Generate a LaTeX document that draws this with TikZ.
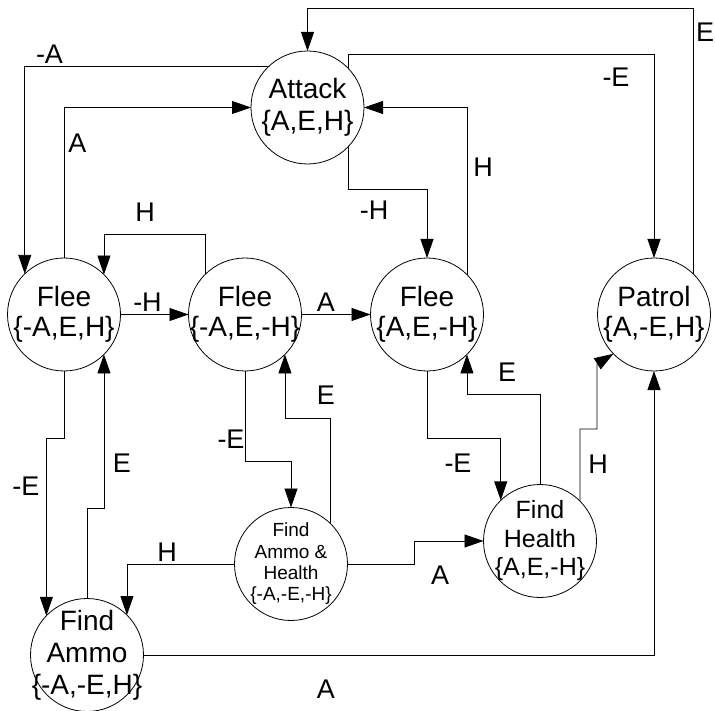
\documentclass[tikz,border=0pt]{standalone}
\usepackage{fontspec}
\setmainfont{Liberation Sans}
\usetikzlibrary{arrows.meta}
\begin{document}
\begin{tikzpicture}[x=1pt,y=-1pt,
  st/.style={circle,draw,line width=0.8pt,minimum size=113pt,inner sep=-40pt,outer sep=0pt,align=center,font=\fontsize{28}{30}\selectfont},
  lbl/.style={inner sep=0pt,font=\fontsize{27}{30}\selectfont},
  conn/.style={line width=0.8pt,-{Triangle[length=19pt,width=13pt]}}]
\useasboundingbox (0,0) rectangle (715,711);
% states
\node[st,font=\fontsize{28}{32}\selectfont] (AT) at (307.5,107.5) {Attack\\\{A,E,H\}};
\node[st] (F1) at (64,314.5) {Flee\\\{-A,E,H\}};
\node[st] (F2) at (245,314.5) {Flee\\\{-A,E,-H\}};
\node[st] (F3) at (427,314.5) {Flee\\\{A,E,-H\}};
\node[st] (PA) at (654,314.5) {Patrol\\\{A,-E,H\}};
\node[st,font=\fontsize{19}{21.3}\selectfont] (FAH) at (291,564) {Find\\Ammo \&\\Health\\\{-A,-E,-H\}};
\node[st,font=\fontsize{28}{32}\selectfont] (FA) at (87,655) {Find\\Ammo\\\{-A,-E,H\}};
\node[st,font=\fontsize{25}{28.5}\selectfont] (FH) at (540,541) {Find\\Health\\\{A,E,-H\}};
% transitions
\draw[conn] (AT.134.7) -| (F1.134.6);
\draw[conn] (F1.north) |- (AT.west);
\draw[conn] (F2.134.6) -- ++(0,-39) -| (F1.45.4);
\draw[conn] (F1.east) -- (F2.west);
\draw[conn] (F2.east) -- (F3.west);
\draw[conn] (AT.-44.7) -- ++(0,42.4) -| (F3.north);
\draw[conn] (F3.45.4) |- (AT.east);
\draw[conn] (AT.44.7) -- ++(0,-14) -| (PA.north);
\draw[conn] (PA.46.8) -- ++(0,-265) -| (AT.north);
\draw[conn] (F1.south) -- ++(0,67.5) -| (FA.136);
\draw[conn] (FA.north) -- ++(0,-90) -| (F1.-45.4);
\draw[conn] (F2.south) -- ++(0,90.5) -| (FAH.north);
\draw[conn] (FAH.46.8) -- ++(0,-105) -| (F2.-45.4);
\draw[conn] (FAH.west) -| (FA.45.4);
\draw[conn] (FAH.east) -- ++(67,0) |- (FH.west);
\draw[conn] (F3.south) -- ++(0,67.5) -| (FH.134.6);
\draw[conn] (FH.north) -- ++(0,-90) -| (F3.-45.4);
\draw[conn] (FH.45.4) -- ++(0,-72) -- ++(17,0) -- ++(0,-65) -- (PA.224);
\draw[conn] (FA.east) -| (PA.south);
% labels
\node[lbl] (l1) at (49.5,54) {-A};
\node[lbl] (l2) at (77.5,143.5) {A};
\node[lbl] (l3) at (145,212) {H};
\node[lbl] (l4) at (147.5,302) {-H};
\node[lbl] (l5) at (326,302) {A};
\node[lbl] (l6) at (374,210) {-H};
\node[lbl] (l7) at (483,167) {H};
\node[lbl] (l8) at (616,77) {-E};
\node[lbl] (l9) at (705,32.5) {E};
\node[lbl] (l10) at (26,486) {-E};
\node[lbl] (l11) at (122,463) {E};
\node[lbl] (l12) at (231,439) {-E};
\node[lbl] (l13) at (326,395) {E};
\node[lbl] (l14) at (167,552) {H};
\node[lbl] (l15) at (440,575) {A};
\node[lbl] (l16) at (326,689) {A};
\node[lbl] (l17) at (458,463) {-E};
\node[lbl] (l18) at (507,372) {E};
\node[lbl] (l19) at (598,464) {H};
\end{tikzpicture}
\end{document}
